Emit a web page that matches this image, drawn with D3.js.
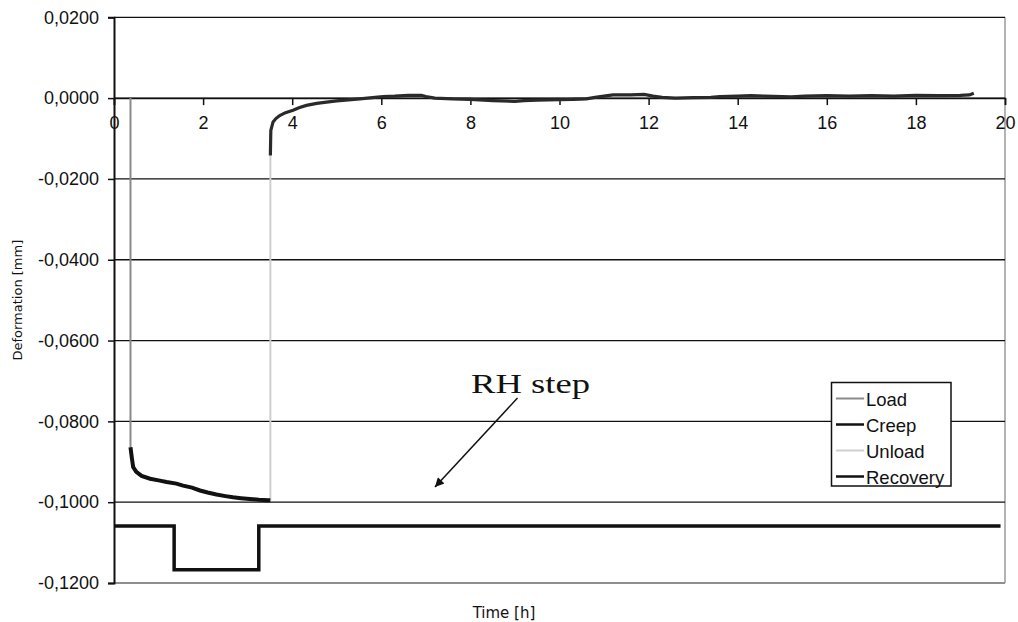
<!DOCTYPE html>
<html>
<head>
<meta charset="utf-8">
<script src="https://cdn.jsdelivr.net/npm/d3@7"></script>
<style>
  html, body { margin: 0; padding: 0; background: #fff; }
  svg { display: block; }
</style>
</head>
<body>
<svg id="chart" width="1018" height="622"></svg>
<script>
// ---- data ----
const xTicks = [0, 2, 4, 6, 8, 10, 12, 14, 16, 18, 20];
const yTicks = [0.02, 0.0, -0.02, -0.04, -0.06, -0.08, -0.10, -0.12];

const loadT = [0.37, 0.37];
const loadV = [0.0, -0.0864];

const creepT = [0.37, 0.40, 0.43, 0.50, 0.62, 0.81, 1.00, 1.18, 1.40, 1.55, 1.75, 1.93, 2.10, 2.30, 2.50, 2.67, 2.85, 3.05, 3.25, 3.46, 3.51];
const creepV = [-0.0864, -0.0890, -0.0913, -0.0925, -0.0935, -0.0942, -0.0946, -0.0950, -0.0954, -0.0959, -0.0964, -0.0971, -0.0976, -0.0981, -0.0985, -0.0988, -0.0990, -0.0992, -0.0994, -0.0995, -0.0995];

const unloadT = [3.51, 3.51];
const unloadV = [-0.0995, -0.0142];

const recoveryT = [3.51, 3.52, 3.57, 3.64, 3.72, 3.85, 4.02, 4.15, 4.32, 4.55, 4.77, 5.00, 5.20, 5.52, 5.80, 6.04, 6.30, 6.60, 6.90, 7.00, 7.20, 7.60, 8.00, 8.30, 8.50, 8.70, 9.00, 9.20, 9.50, 10.00, 10.30, 10.60, 10.80, 11.00, 11.20, 11.60, 11.90, 12.10, 12.30, 12.60, 13.00, 13.40, 13.60, 14.00, 14.30, 14.60, 15.00, 15.20, 15.50, 16.00, 16.50, 17.00, 17.50, 18.00, 18.50, 19.00, 19.20, 19.30];
const recoveryV = [-0.0142, -0.0080, -0.0059, -0.0050, -0.0043, -0.0036, -0.0030, -0.0024, -0.0018, -0.0013, -0.0010, -0.0007, -0.0005, -0.0002, 0.0001, 0.0004, 0.0005, 0.0007, 0.0007, 0.0004, 0.0000, -0.0002, -0.0003, -0.0005, -0.0006, -0.0007, -0.0008, -0.0006, -0.0005, -0.0004, -0.0003, -0.0002, 0.0002, 0.0005, 0.0008, 0.0008, 0.0009, 0.0005, 0.0002, 0.0000, 0.0001, 0.0002, 0.0004, 0.0005, 0.0006, 0.0005, 0.0004, 0.0003, 0.0005, 0.0006, 0.0005, 0.0006, 0.0005, 0.0007, 0.0006, 0.0007, 0.0008, 0.0012];

const rhT = [0, 1.35, 1.35, 3.25, 3.25, 19.9];
const rhV = [-0.1059, -0.1059, -0.1167, -0.1167, -0.1059, -0.1059];

const legendNames = ["Load", "Creep", "Unload", "Recovery"];
const legendColors = ["#8a8a8a", "#111111", "#cfcfcf", "#111111"];

// ---- drawing ----
const svg = d3.select("#chart");
const x = d3.scaleLinear().domain([0, 20]).range([114, 1005]);
const y = d3.scaleLinear().domain([-0.12, 0.02]).range([583, 17.3]);

const fmtY = v => {
  const r = Math.round(v * 10000) / 10000;
  const s = Math.abs(r).toFixed(4).replace(".", ",");
  return (r < 0 ? "-" : "") + s;
};

// right border (gray)
svg.append("line").attr("x1", x(20)).attr("x2", x(20)).attr("y1", y(0.02)).attr("y2", y(-0.12))
  .attr("stroke", "#9a9a9a").attr("stroke-width", 1.5);

// gridlines
svg.append("g").selectAll("line").data(yTicks).join("line")
  .attr("x1", x(0)).attr("x2", x(20))
  .attr("y1", d => y(d)).attr("y2", d => y(d))
  .attr("stroke", d => d === -0.12 ? "#8f8f8f" : "#111")
  .attr("stroke-width", d => d === -0.12 ? 1.8 : 1.3);

// y axis
const yAxis = d3.axisLeft(y).tickValues(yTicks).tickFormat(fmtY).tickSize(6).tickPadding(9);
const gy = svg.append("g").attr("transform", `translate(${x(0)},0)`).call(yAxis);
gy.select(".domain").attr("stroke", "#111").attr("stroke-width", 2);
gy.selectAll(".tick line").attr("stroke", "#111").attr("stroke-width", 1.5);
gy.selectAll("text").attr("font-family", "'Liberation Sans', Arial, sans-serif").attr("font-size", 18).attr("fill", "#111");

// x axis crossing at y = 0
const xAxis = d3.axisBottom(x).tickValues(xTicks).tickFormat(d => String(d)).tickSize(7).tickPadding(11);
const gx = svg.append("g").attr("transform", `translate(0,${y(0)})`).call(xAxis);
gx.select(".domain").attr("stroke", "#111").attr("stroke-width", 1.5);
gx.selectAll(".tick line").attr("stroke", "#111").attr("stroke-width", 1.5);
gx.selectAll("text").attr("font-family", "'Liberation Sans', Arial, sans-serif").attr("font-size", 18).attr("fill", "#111");

// series
const line = d3.line().x(d => x(d[0])).y(d => y(d[1]));
const zip = (a, b) => a.map((t, i) => [t, b[i]]);

svg.append("path").datum(zip(rhT, rhV)).attr("d", line)
  .attr("fill", "none").attr("stroke", "#111").attr("stroke-width", 3.5).attr("stroke-linejoin", "miter");
svg.append("path").datum(zip(loadT, loadV)).attr("d", line)
  .attr("fill", "none").attr("stroke", legendColors[0]).attr("stroke-width", 2);
svg.append("path").datum(zip(unloadT, unloadV)).attr("d", line)
  .attr("fill", "none").attr("stroke", legendColors[2]).attr("stroke-width", 2);
svg.append("path").datum(zip(creepT, creepV)).attr("d", line)
  .attr("fill", "none").attr("stroke", legendColors[1]).attr("stroke-width", 4);
svg.append("path").datum(zip(recoveryT, recoveryV)).attr("d", line)
  .attr("fill", "none").attr("stroke", "#2a2a2a").attr("stroke-width", 3.2);

// axis titles
svg.append("text").attr("transform", `translate(22,${(y(0.02) + y(-0.12)) / 2}) rotate(-90)`)
  .attr("text-anchor", "middle").attr("font-family", "'DejaVu Sans', Verdana, sans-serif")
  .attr("font-size", 13).attr("fill", "#111").text("Deformation [mm]");
svg.append("text").attr("x", 504).attr("y", 618)
  .attr("text-anchor", "middle").attr("font-family", "'DejaVu Sans', Verdana, sans-serif")
  .attr("font-size", 15).attr("fill", "#111").text("Time [h]");

// legend
const lg = svg.append("g");
lg.append("rect").attr("x", 831.5).attr("y", 382.5).attr("width", 119.5).attr("height", 103.5)
  .attr("fill", "#fff").attr("stroke", "#111").attr("stroke-width", 1.5);
legendNames.forEach((n, i) => {
  const cy = 398.5 + i * 26;
  lg.append("line").attr("x1", 836).attr("x2", 864).attr("y1", cy).attr("y2", cy)
    .attr("stroke", legendColors[i]).attr("stroke-width", i % 2 === 1 ? 2.5 : 2);
  lg.append("text").attr("x", 866).attr("y", cy + 7)
    .attr("font-family", "'Liberation Sans', Arial, sans-serif").attr("font-size", 18.5)
    .attr("fill", "#111").text(n);
});

// annotation
const defs = svg.append("defs");
defs.append("marker").attr("id", "arr").attr("viewBox", "0 0 10 10").attr("refX", 10).attr("refY", 5)
  .attr("markerWidth", 13).attr("markerHeight", 9).attr("markerUnits", "userSpaceOnUse").attr("orient", "auto")
  .append("path").attr("d", "M0,0 L10,5 L0,10 z").attr("fill", "#111");
svg.append("line").attr("x1", 517.5).attr("y1", 398).attr("x2", 435).attr("y2", 487)
  .attr("stroke", "#111").attr("stroke-width", 1.5).attr("marker-end", "url(#arr)");
svg.append("text").attr("x", 471).attr("y", 392.5)
  .attr("font-family", "'Liberation Serif', 'Times New Roman', serif").attr("font-size", 28)
  .attr("textLength", 119).attr("lengthAdjust", "spacingAndGlyphs")
  .attr("fill", "#111").text("RH step");
</script>
</body>
</html>
